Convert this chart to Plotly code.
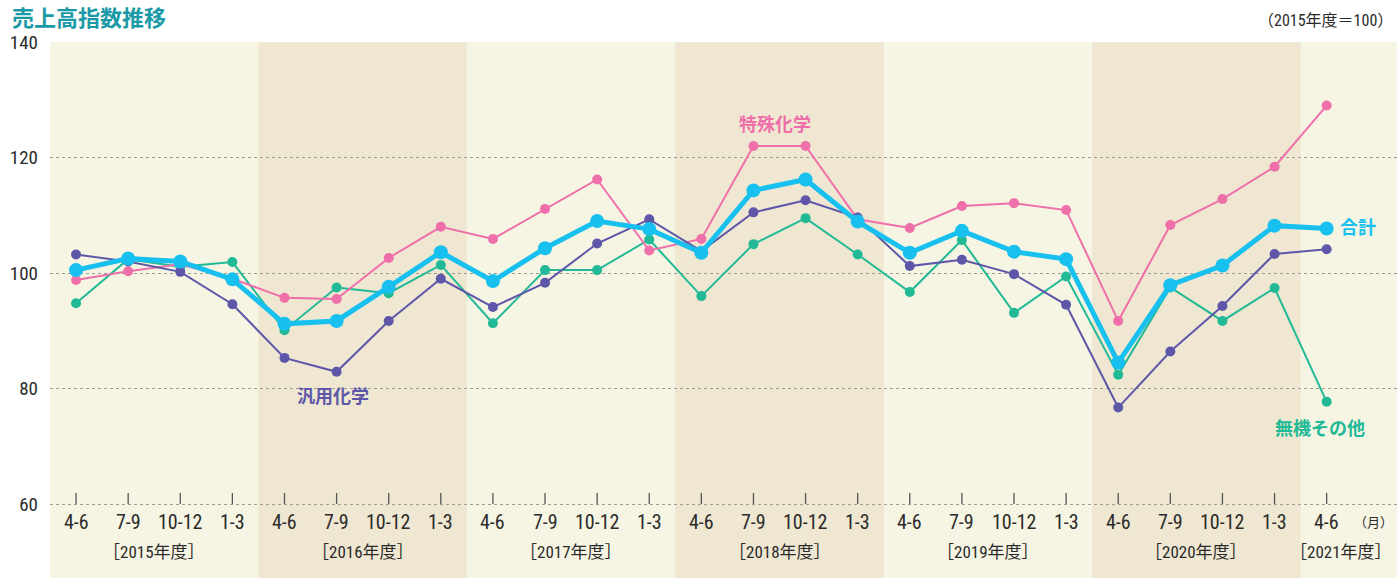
import plotly.graph_objects as go

# 四半期ラベルと年度
quarters = ["4-6", "7-9", "10-12", "1-3"] * 6 + ["4-6"]
fiscal_years = ["2015", "2016", "2017", "2018", "2019", "2020", "2021"]

# 売上高指数（2015年度=100）
total = [100.5, 102.5, 102.0, 98.9, 91.2, 91.7, 97.6, 103.6, 98.6, 104.3,
         109.0, 107.6, 103.5, 114.3, 116.2, 108.9, 103.5, 107.3, 103.7, 102.4,
         84.5, 97.9, 101.3, 108.2, 107.7]
specialty = [98.8, 100.3, 101.5, 99.0, 95.7, 95.5, 102.6, 108.0, 105.9, 111.1,
             116.2, 103.9, 105.9, 122.0, 122.0, 109.3, 107.8, 111.6, 112.1, 110.9,
             91.7, 108.3, 112.8, 118.4, 129.0]
commodity = [103.2, 102.0, 100.2, 94.6, 85.3, 82.9, 91.7, 99.0, 94.1, 98.3,
             105.1, 109.3, 103.8, 110.5, 112.6, 109.6, 101.2, 102.3, 99.8, 94.5,
             76.7, 86.4, 94.3, 103.3, 104.1]
inorganic = [94.75, 102.4, 101.1, 101.9, 90.1, 97.5, 96.5, 101.4, 91.3, 100.5,
             100.5, 105.8, 96.0, 105.0, 109.5, 103.2, 96.7, 105.7, 93.1, 99.4,
             82.4, 97.5, 91.7, 97.4, 77.7]

x = list(range(len(quarters)))

C_TOTAL = "#17c0ef"
C_SPEC = "#ef6fab"
C_COMM = "#5e57a9"
C_INORG = "#22b996"
BG_LIGHT = "#f6f5e3"
BG_DARK = "#efe7d1"
TXT = "#2b2b2b"
FONT = "Liberation Sans Narrow, Roboto Condensed, Roboto, Noto Sans CJK JP, sans-serif"
FONT_JP = "Noto Sans CJK JP, sans-serif"

fig = go.Figure()

def add_series(vals, color, lw, ms):
    fig.add_trace(go.Scatter(
        x=x, y=vals, mode="lines+markers",
        line=dict(color=color, width=lw),
        marker=dict(color=color, size=ms),
        showlegend=False, hoverinfo="skip",
    ))

add_series(inorganic, C_INORG, 2, 10)
add_series(specialty, C_SPEC, 2, 10)
add_series(commodity, C_COMM, 2, 10)
add_series(total, C_TOTAL, 5, 14)

shapes = []
# 年度ごとの背景帯（1年おきに濃い色）
for i, fy in enumerate(fiscal_years):
    if i % 2 == 1:
        shapes.append(dict(type="rect", xref="x", yref="paper",
                           x0=i * 4 - 0.5, x1=i * 4 + 3.5, y0=0, y1=1,
                           fillcolor=BG_DARK, line_width=0, layer="below"))
# 目盛り線
for xi in x:
    shapes.append(dict(type="line", xref="x", yref="y",
                       x0=xi, x1=xi, y0=60, y1=61.9,
                       line=dict(color="#555555", width=1.3)))

annotations = []
for xi, q in zip(x, quarters):
    annotations.append(dict(x=xi, y=56.9, xref="x", yref="y", text=q,
                            showarrow=False, font=dict(family=FONT, size=20, color=TXT)))
year_font = dict(family=FONT, size=17, color=TXT)
for i, fy in enumerate(fiscal_years[:-1]):
    annotations.append(dict(x=i * 4 + 1.5, y=51.7, xref="x", yref="y",
                            text=f"［{fy}年度］", showarrow=False, font=year_font))
# 最終年度は右端に寄せる
annotations.append(dict(x=1, y=51.7, xref="paper", yref="y", xanchor="right", xshift=-3,
                        text=f"［{fiscal_years[-1]}年度］", showarrow=False, font=year_font))
annotations.append(dict(x=1, y=56.9, xref="paper", yref="y", xanchor="right",
                        text="（月）", showarrow=False, xshift=-2,
                        font=dict(family=FONT_JP, size=13, color=TXT)))

# 系列ラベル
annotations += [
    dict(x=13.41, y=126.0, xref="x", yref="y", text="<b>特殊化学</b>", showarrow=False,
         font=dict(family=FONT_JP, size=18, color=C_SPEC)),
    dict(x=4.93, y=78.9, xref="x", yref="y", text="<b>汎用化学</b>", showarrow=False,
         font=dict(family=FONT_JP, size=18, color=C_COMM)),
    dict(x=1, y=108.2, xref="paper", yref="y", xanchor="right", text="<b>合計</b>",
         showarrow=False, xshift=-19, font=dict(family=FONT_JP, size=18, color=C_TOTAL)),
    dict(x=23.87, y=73.3, xref="x", yref="y", text="<b>無機その他</b>", showarrow=False,
         font=dict(family=FONT_JP, size=18, color=C_INORG)),
]
# タイトルと注記
annotations += [
    dict(x=0, y=1, xref="paper", yref="paper", xanchor="left", yanchor="top",
         text="<b>売上高指数推移</b>", showarrow=False, xshift=-40, yshift=44,
         font=dict(family=FONT_JP, size=22, color="#1a9aa6")),
    dict(x=1, y=1, xref="paper", yref="paper", xanchor="right", yanchor="bottom",
         text="（2015年度＝100）", showarrow=False, xshift=-2, yshift=10,
         font=dict(family=FONT, size=16, color=TXT)),
]

fig.update_layout(
    width=1397, height=578,
    margin=dict(l=50, r=0, t=42, b=0),
    paper_bgcolor="white",
    plot_bgcolor=BG_LIGHT,
    shapes=shapes,
    annotations=annotations,
    xaxis=dict(range=[-0.5, 25.35], showgrid=False, zeroline=False,
               showticklabels=False, ticks="", fixedrange=True),
    yaxis=dict(range=[47.19, 140], tickvals=[60, 80, 100, 120, 140],
               showgrid=True, gridcolor="#a09c94", griddash="dot", gridwidth=1,
               zeroline=False, ticks="", ticklabelstandoff=11,
               tickfont=dict(family=FONT, size=19, color=TXT), fixedrange=True),
)

fig.write_html("out.html")
